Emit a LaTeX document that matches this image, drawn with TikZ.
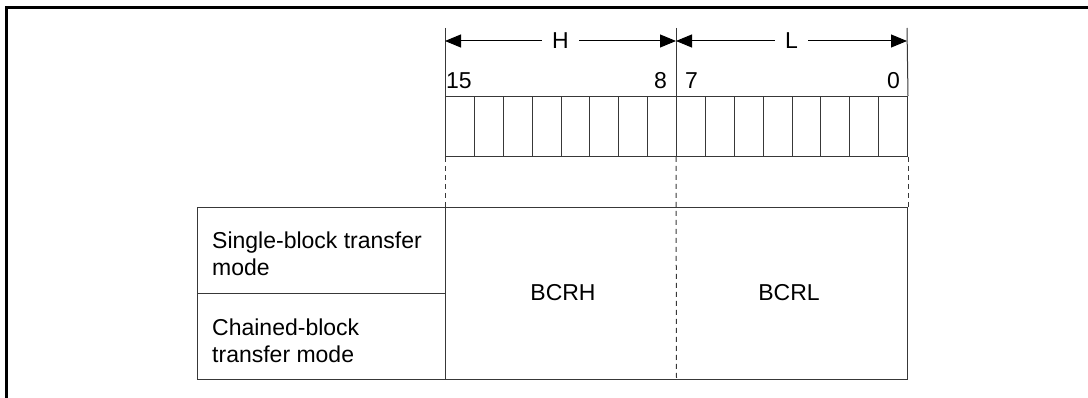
\documentclass[tikz,border=0pt]{standalone}
\usepackage{fontspec}
\setmainfont{Liberation Sans}
\usetikzlibrary{arrows.meta, positioning, calc}
\definecolor{linegray}{HTML}{383838}
\tikzset{
  outerframe/.style={line width=3pt, draw=black},
  regline/.style={line width=1pt, draw=linegray},
  guide/.style={line width=1pt, draw=linegray, dash pattern=on 5pt off 4pt},
  dimarrow/.style={{Triangle[length=16pt,width=13pt]}-{Triangle[length=16pt,width=13pt]}, line width=1pt, draw=black},
  txt/.style={font=\fontsize{23}{26.5}\selectfont, inner sep=0pt},
  cell/.style={draw=linegray, line width=1pt, minimum width=28.875pt, minimum height=60pt,
    inner sep=0pt, anchor=north west},
  modecell/.style={draw=linegray, line width=1pt, minimum width=248pt, minimum height=86pt,
    inner sep=0pt, anchor=north west},
}

\begin{document}
\begin{tikzpicture}[x=1pt, y=-1pt]
  \useasboundingbox (0,0) rectangle (1088,398);

  % outer frame (top and left only)
  \draw[outerframe] (1088,7.5) -- (6.5,7.5) -- (6.5,398);

  % 16-bit register, bit 15 on the left
  \foreach \i in {0,...,15}
    \node[cell] (c\i) at ({445+\i*28.875},96) {};

  \node[txt, anchor=base west] (n15) at (446,89) {15};
  \node[txt, anchor=base east] (n8) at (667,89) {8};
  \node[txt, anchor=base west] (n7) at (685,89) {7};
  \node[txt, anchor=base east] (n0) at (900,89) {0};

  % extension ticks and H / L spans
  \coordinate (tl) at (445,28);
  \coordinate (tm) at (676,28);
  \coordinate (tr) at (907,28);
  \draw[regline] (tl) -- (c0.north west);
  \draw[regline] (tm) -- (c8.north west);
  \draw[regline] (tr) -- (c15.north east);

  \coordinate (hl) at (445,41);
  \coordinate (hm) at (676,41);
  \coordinate (hr) at (907,41);
  \draw[dimarrow] (hl) -- node[txt, fill=white, inner xsep=10pt, inner ysep=2pt] (hlab) {H} (hm);
  \draw[dimarrow] (hm) -- node[txt, fill=white, inner xsep=10pt, inner ysep=2pt] (llab) {L} (hr);

  % transfer mode table
  \node[modecell] (single) at (197,207) {};
  \node[modecell] (chained) at (197,293) {};
  \node[draw=linegray, line width=1pt, minimum width=462pt, minimum height=172pt,
    inner sep=0pt, anchor=north west] (bcr) at (445,207) {};

  \node[txt, align=left, anchor=west] (singletxt) at (212,254) {Single-block transfer\\mode};
  \node[txt, align=left, anchor=west] (chainedtxt) at (212,341) {Chained-block\\transfer mode};

  \node[txt] (bcrh) at (563,293) {BCRH};
  \node[txt] (bcrl) at (789,293) {BCRL};

  % dashed guides
  \draw[guide] (c0.south west) -- (bcr.north west);
  \draw[guide] (c8.south west) -- (bcr.south);
  \draw[guide] (c15.south east) -- (bcr.north east);
\end{tikzpicture}
\end{document}
